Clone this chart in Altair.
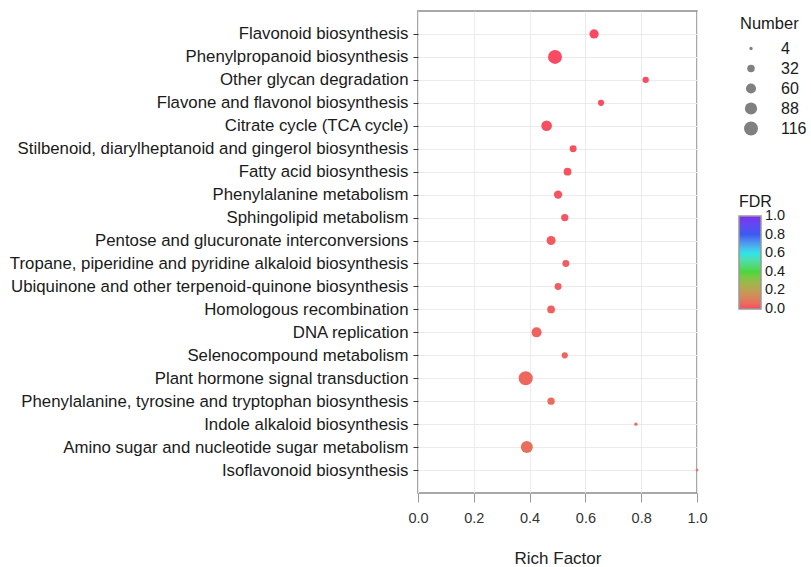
import altair as alt
import pandas as pd

pathways = [
    "Flavonoid biosynthesis",
    "Phenylpropanoid biosynthesis",
    "Other glycan degradation",
    "Flavone and flavonol biosynthesis",
    "Citrate cycle (TCA cycle)",
    "Stilbenoid, diarylheptanoid and gingerol biosynthesis",
    "Fatty acid biosynthesis",
    "Phenylalanine metabolism",
    "Sphingolipid metabolism",
    "Pentose and glucuronate interconversions",
    "Tropane, piperidine and pyridine alkaloid biosynthesis",
    "Ubiquinone and other terpenoid-quinone biosynthesis",
    "Homologous recombination",
    "DNA replication",
    "Selenocompound metabolism",
    "Plant hormone signal transduction",
    "Phenylalanine, tyrosine and tryptophan biosynthesis",
    "Indole alkaloid biosynthesis",
    "Amino sugar and nucleotide sugar metabolism",
    "Isoflavonoid biosynthesis",
]
rich_factor = [0.631, 0.491, 0.816, 0.656, 0.461, 0.556, 0.536, 0.502, 0.526, 0.477,
               0.530, 0.502, 0.477, 0.425, 0.526, 0.386, 0.477, 0.781, 0.390, 1.000]
number = [50, 117, 22, 21, 67, 27, 34, 40, 30, 47,
          27, 27, 34, 59, 21, 120, 30, 4, 86, 2]
fdr = [0.000, 0.001, 0.002, 0.004, 0.006, 0.010, 0.013, 0.016, 0.020, 0.024,
       0.028, 0.032, 0.036, 0.040, 0.045, 0.050, 0.055, 0.060, 0.068, 0.075]

size_legend_values = [4, 32, 60, 88, 116]
fdr_legend_values = [0.0, 0.2, 0.4, 0.6, 0.8, 1.0]
x_ticks = [0.0, 0.2, 0.4, 0.6, 0.8, 1.0]

df = pd.DataFrame({"Pathway": pathways, "RichFactor": rich_factor,
                   "Number": number, "FDR": fdr})

FONT = "Liberation Sans"

chart = alt.Chart(df).mark_circle(opacity=1).encode(
    x=alt.X("RichFactor:Q", title="Rich Factor",
            scale=alt.Scale(domain=[0, 1], nice=False, zero=False),
            axis=alt.Axis(values=x_ticks, format=".1f", labelFontSize=14.5,
                          labelColor="#333333", tickColor="#999999", tickSize=9,
                          labelPadding=9, labelFlush=False, domain=False,
                          grid=True, gridColor="#EBEBEB",
                          titleFontSize=17, titleFontWeight="normal",
                          titleColor="#222222", titleY=65, titleBaseline="middle")),
    y=alt.Y("Pathway:N", title=None, sort=pathways,
            scale=alt.Scale(type="point", padding=1),
            axis=alt.Axis(labelFontSize=16.8, labelColor="#1a1a1a", tickColor="#333333",
                          tickSize=5, labelPadding=5, domain=False,
                          grid=True, gridColor="#EBEBEB", labelLimit=500)),
    size=alt.Size("Number:Q",
                  scale=alt.Scale(domain=[1, 120], range=[6, 200], zero=False),
                  legend=alt.Legend(title="Number", values=size_legend_values,
                                    orient="none", legendX=322, legendY=5,
                                    titleFontSize=16.5, titleFontWeight="normal",
                                    labelFontSize=16, symbolFillColor="#808080",
                                    symbolStrokeWidth=0, symbolOpacity=1,
                                    symbolOffset=3, labelOffset=22,
                                    rowPadding=4, titlePadding=8)),
    color=alt.Color("FDR:Q",
                    scale=alt.Scale(domain=[-0.0005, 0.4, 0.6, 0.8, 1.0005],
                                    range=["#F94A62", "#4CD63C", "#2EE3E8", "#3B5BF2", "#7A2EF0"],
                                    interpolate="lab"),
                    legend=alt.Legend(title="FDR", values=fdr_legend_values, format=".1f",
                                      orient="none", legendX=321, legendY=183,
                                      gradientLength=93, gradientThickness=22,
                                      gradientStrokeColor="#999999", gradientStrokeWidth=1.5,
                                      titleFontSize=16, titleFontWeight="normal",
                                      labelFontSize=14.5, labelOffset=4, titlePadding=6,
                                      labelOverlap=False)),
).properties(
    width=279, height=482,
    autosize=alt.AutoSizeParams(type="none"),
    padding={"left": 418, "top": 11, "right": 114, "bottom": 74},
).configure(
    font=FONT, background="white"
).configure_view(
    stroke="#8C8C8C", strokeWidth=1.5
).configure_legend(
    labelColor="#1a1a1a", titleColor="#1a1a1a", labelFont=FONT, titleFont=FONT
)

chart.save("out.html", embed_options={"renderer": "svg", "actions": False})
